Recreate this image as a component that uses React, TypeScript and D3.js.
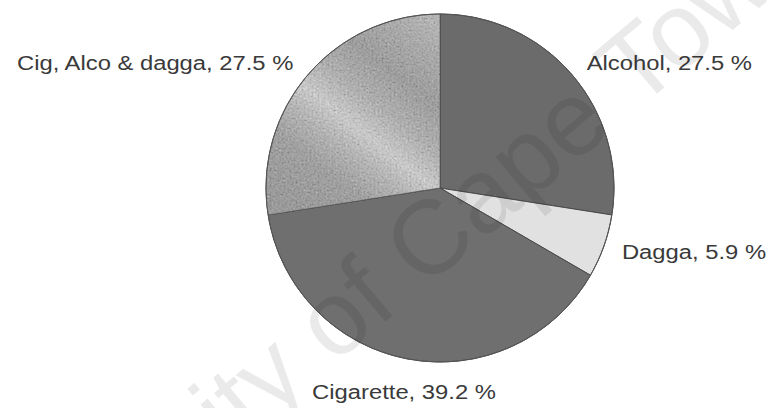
import React from "react";
import * as d3 from "d3";

// Substance-use breakdown (percent of respondents)
const categories = ["Alcohol", "Dagga", "Cigarette", "Cig, Alco & dagga"];
const shares = [27.5, 5.9, 39.2, 27.5];
const sliceFills = ["#6b6b6b", "#e1e1e1", "#6f6f6f", "url(#mixGrad)"];
const watermark = "University of Cape Town";

const W = 768;
const H = 408;
const cx = 440;
const cy = 188;
const radius = 174;
const labelRadius = 193;
const fontStack = "'Liberation Sans', Arial, sans-serif";

type Datum = { name: string; value: number; fill: string };

export default function App() {
  const data: Datum[] = categories.map((name, i) => ({
    name,
    value: shares[i],
    fill: sliceFills[i],
  }));

  const pie = d3
    .pie<Datum>()
    .sort(null)
    .value((d) => d.value);
  const arcs = pie(data);
  const arc = d3.arc<d3.PieArcDatum<Datum>>().innerRadius(0).outerRadius(radius);

  const labels = arcs.map((a) => {
    const mid = (a.startAngle + a.endAngle) / 2;
    const sx = Math.sin(mid);
    const sy = -Math.cos(mid);
    let x = labelRadius * sx;
    let y = labelRadius * sy;
    let anchor: "start" | "end" | "middle" = sx >= 0 ? "start" : "end";
    // slices whose middle points downward get a centred label under the pie
    if (sy > 0.8) {
      anchor = "middle";
      x = -36;
      y = radius + 30;
    }
    return {
      x: cx + x,
      y: cy + y,
      anchor,
      text: `${a.data.name}, ${a.data.value.toFixed(1)} %`,
    };
  });

  return (
    <svg
      width={W}
      height={H}
      style={{ position: "absolute", left: 0, top: 0, background: "#fff" }}
    >
      <defs>
        {/* coordinates are relative to the pie centre */}
        <linearGradient
          id="mixGrad"
          gradientUnits="userSpaceOnUse"
          x1={-150}
          y1={12}
          x2={-10}
          y2={-168}
        >
          <stop offset="0" stopColor="#8a8a8a" />
          <stop offset="0.2" stopColor="#939393" />
          <stop offset="0.33" stopColor="#b4b4b4" />
          <stop offset="0.43" stopColor="#d6d6d6" />
          <stop offset="0.56" stopColor="#acacac" />
          <stop offset="0.72" stopColor="#8f8f8f" />
          <stop offset="0.88" stopColor="#a2a2a2" />
          <stop offset="1" stopColor="#b4b4b4" />
        </linearGradient>
        <filter id="mottle" x="0" y="0" width="100%" height="100%">
          <feTurbulence type="fractalNoise" baseFrequency="0.5" numOctaves={2} seed={3} result="n" />
          <feColorMatrix
            in="n"
            type="matrix"
            values="0.5 0.5 0.5 0 -0.3  0.5 0.5 0.5 0 -0.3  0.5 0.5 0.5 0 -0.3  0 0 0 0 0.4"
            result="g"
          />
          <feComposite in="g" in2="SourceGraphic" operator="in" />
        </filter>
      </defs>

      <g transform={`translate(${cx},${cy})`}>
        {arcs.map((a, i) => (
          <path
            key={categories[i]}
            d={arc(a) || ""}
            fill={a.data.fill}
            stroke="#4a4a4a"
            strokeWidth={1}
          />
        ))}
        <path d={arc(arcs[3]) || ""} fill="#fff" filter="url(#mottle)" />
        <circle r={radius} fill="none" stroke="#555" strokeWidth={1} />
      </g>

      {labels.map((l) => (
        <g key={l.text} transform={`translate(${l.x},${l.y}) scale(1.19,1)`}>
          <text
            x={0}
            y={0}
            dy="0.35em"
            textAnchor={l.anchor}
            fontFamily={fontStack}
            fontSize={20}
            fill="#3a3a3a"
          >
            {l.text}
          </text>
        </g>
      ))}

      <text
        transform="translate(391,317) rotate(-40)"
        textAnchor="middle"
        fontFamily={fontStack}
        fontSize={105}
        fill="#000"
        opacity={0.08}
      >
        {watermark}
      </text>
    </svg>
  );
}
